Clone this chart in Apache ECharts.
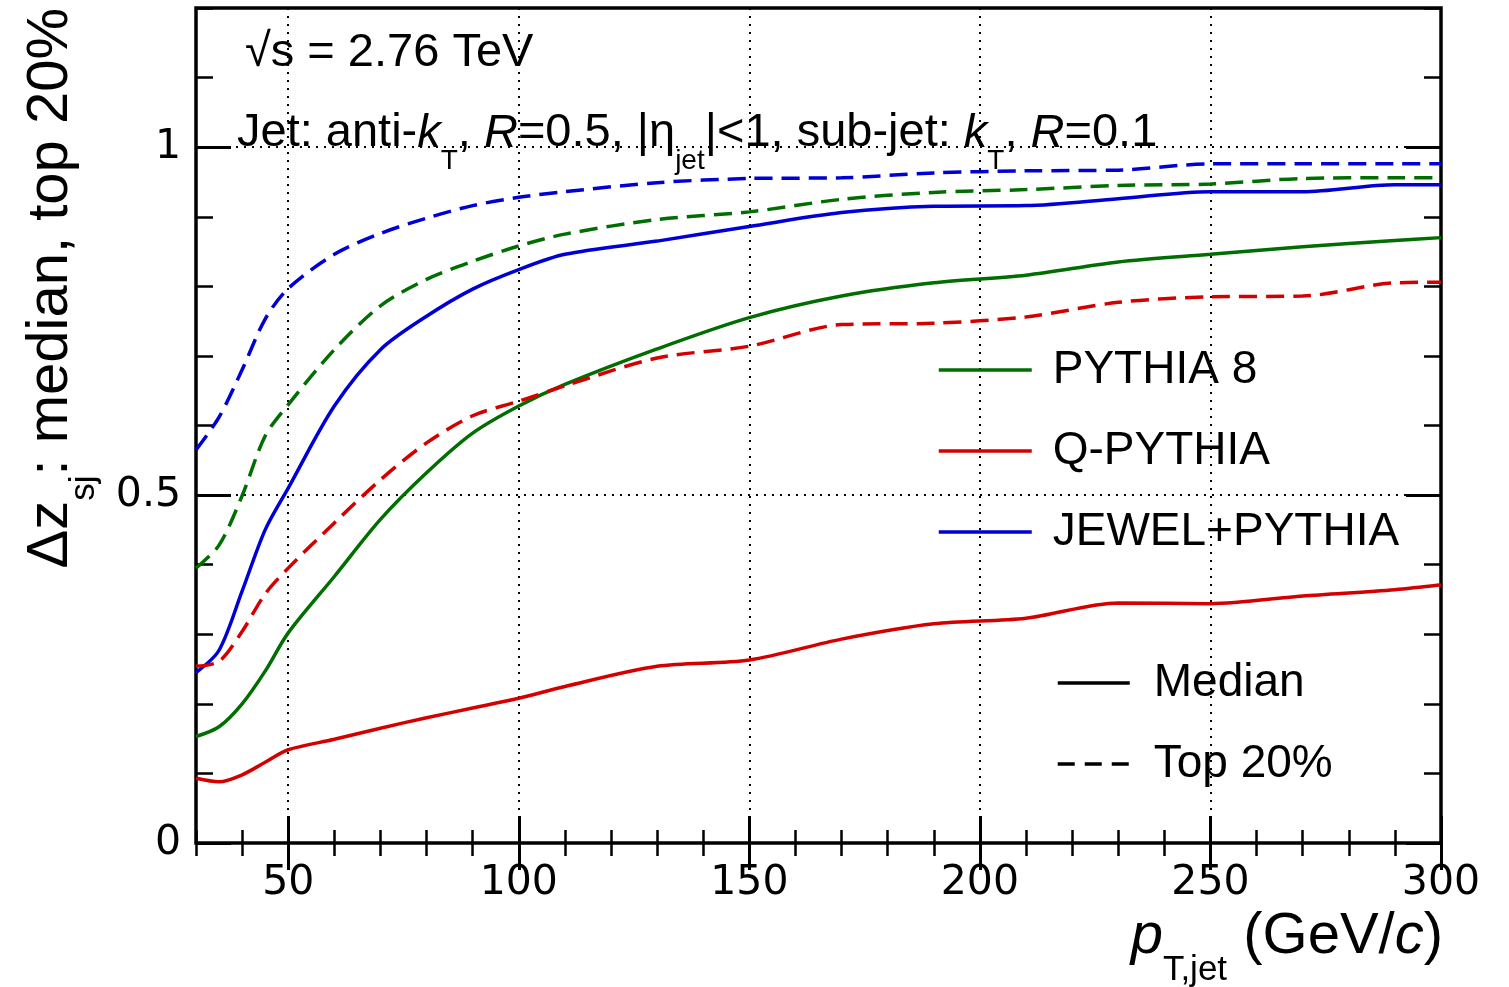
<!DOCTYPE html>
<html><head><meta charset="utf-8">
<script src="https://cdn.jsdelivr.net/npm/echarts@6/dist/echarts.min.js"></script>
<style>html,body{margin:0;padding:0;background:#fff}#c{width:1509px;height:987px}</style>
</head><body><div id="c"></div>
<script>
// pT,jet (GeV/c) sampling points
const ptBins = [30,35,40,45,50,60,70,80,90,100,110,130,150,170,190,210,230,250,270,290,300];
// Delta z_sj values
const pythiaMedian  = [0.153,0.167,0.200,0.247,0.302,0.383,0.465,0.532,0.589,0.628,0.659,0.710,0.755,0.786,0.805,0.816,0.835,0.846,0.857,0.866,0.870];
const pythiaTop     = [0.395,0.428,0.499,0.585,0.630,0.709,0.772,0.810,0.836,0.858,0.875,0.896,0.907,0.925,0.935,0.939,0.945,0.947,0.955,0.956,0.956];
const qpythiaMedian = [0.093,0.088,0.098,0.116,0.134,0.149,0.165,0.180,0.194,0.208,0.225,0.254,0.263,0.293,0.315,0.323,0.345,0.344,0.355,0.364,0.371];
const qpythiaTop    = [0.254,0.261,0.304,0.358,0.395,0.460,0.522,0.575,0.614,0.635,0.657,0.697,0.714,0.745,0.747,0.756,0.777,0.785,0.786,0.805,0.806];
const jewelMedian   = [0.245,0.277,0.362,0.450,0.510,0.628,0.709,0.757,0.796,0.824,0.846,0.865,0.886,0.906,0.915,0.916,0.926,0.936,0.936,0.946,0.946];
const jewelTop      = [0.565,0.612,0.680,0.753,0.797,0.846,0.876,0.898,0.916,0.928,0.936,0.949,0.955,0.956,0.963,0.966,0.967,0.976,0.976,0.976,0.976];

const modelNames = ['PYTHIA 8','Q-PYTHIA','JEWEL+PYTHIA'];
const styleNames = ['Median','Top 20%'];
const xMajorTicks = [50,100,150,200,250,300];
const xTickLabels = ['50','100','150','200','250','300'];
const yMajorTicks = [0,0.5,1];
const yTickLabels = ['0','0.5','1'];

const GREEN = '#006e00', RED = '#d40000', BLUE = '#0000d6';
const DASH = [18, 9];

function mk(name, vals, color, dashed) {
  return {
    type: 'line', name: name, xAxisIndex: 0, yAxisIndex: 0,
    data: ptBins.map((x, i) => [x, vals[i]]),
    symbol: 'none', smooth: 0.3,
    lineStyle: {color: color, width: 3.5, type: dashed ? DASH : 'solid'},
    itemStyle: {color: color}, z: 3
  };
}

const series = [
  mk(modelNames[0], pythiaMedian, GREEN, false),
  mk(modelNames[1], qpythiaMedian, RED, false),
  mk(modelNames[2], jewelMedian, BLUE, false),
  mk(modelNames[0], pythiaTop, GREEN, true),
  mk(modelNames[1], qpythiaTop, RED, true),
  mk(modelNames[2], jewelTop, BLUE, true),
  {type:'line', name: styleNames[0], data: [], symbol:'none', lineStyle:{color:'#000', width:3}, itemStyle:{color:'#000'}},
  {type:'line', name: styleNames[1], data: [], symbol:'none', lineStyle:{color:'#000', width:3, type:[17,10]}, itemStyle:{color:'#000'}}
];

function near(list, v, tol) { for (let i = 0; i < list.length; i++) if (Math.abs(list[i] - v) < tol) return i; return -1; }

const gridDot = {show: true, lineStyle: {color: '#000', width: 2, type: [2, 6]}};

function xAx(pos, major, withLabels) {
  const a = {
    type: 'value', position: pos, min: 30, max: 300,
    axisLine: {show: false},
    splitLine: {show: false},
    axisLabel: {show: false}
  };
  if (major) {
    a.axisTick = {inside: true, length: 27, customValues: xMajorTicks, lineStyle: {color: '#000', width: 3}};
    a.splitLine = pos === 'bottom' ? gridDot : {show: false};
  } else {
    a.interval = 10;
    a.axisTick = {inside: true, length: 13, lineStyle: {color: '#000', width: 2.5}};
  }
  if (withLabels) {
    a.axisLabel = {
      show: true, fontFamily: 'DejaVu Sans', fontSize: 41, color: '#000', margin: 20,
      formatter: v => { const i = near(xMajorTicks, v, 1e-6); return i >= 0 ? xTickLabels[i] : ''; }
    };
  }
  return a;
}
function yAx(pos, major, withLabels) {
  const a = {
    type: 'value', position: pos, min: 0, max: 1.2,
    axisLine: {show: false},
    splitLine: {show: false},
    axisLabel: {show: false}
  };
  if (major) {
    a.axisTick = {inside: true, length: 35, customValues: yMajorTicks, lineStyle: {color: '#000', width: 3}};
    a.splitLine = pos === 'left' ? gridDot : {show: false};
  } else {
    a.interval = 0.1;
    a.axisTick = {inside: true, length: 17, lineStyle: {color: '#000', width: 2.5}};
  }
  if (withLabels) {
    a.axisLabel = {
      show: true, fontFamily: 'DejaVu Sans', fontSize: 41, color: '#000', margin: 15,
      formatter: v => { const i = near(yMajorTicks, v, 1e-6); return i >= 0 ? yTickLabels[i] : ''; }
    };
  }
  return a;
}

const FONT = 'Liberation Sans';
function richSet(F) {
  const f = Math.round(F * 0.6), Ls = Math.round(F * 1.384);
  return {
    m: {fontSize: F, fontFamily: FONT, lineHeight: F, verticalAlign: 'top', fill: '#000'},
    i: {fontSize: F, fontFamily: FONT, fontStyle: 'italic', lineHeight: F, verticalAlign: 'top', fill: '#000'},
    s: {fontSize: f, fontFamily: FONT, lineHeight: Ls, verticalAlign: 'bottom', fill: '#000'}
  };
}

const legendText = {fontFamily: FONT, fontSize: 46, color: '#000', lineHeight: 50};
const option = {
  animation: false,
  backgroundColor: '#fff',
  grid: {left: 196, right: 68, top: 8, bottom: 144, show: true, borderColor: '#000', borderWidth: 3.5, backgroundColor: 'transparent'},
  xAxis: [xAx('bottom', false, true), xAx('bottom', true, false), xAx('top', false, false), xAx('top', true, false)],
  yAxis: [yAx('left', false, true), yAx('left', true, false), yAx('right', false, false), yAx('right', true, false)],
  legend: [
    {data: modelNames, orient: 'vertical', left: 937, top: 343, padding: 0, itemGap: 27,
     itemWidth: 93, itemHeight: 2, selectedMode: false, lineStyle: {width: 3.5},
     textStyle: Object.assign({padding: [4, 0, 0, 16]}, legendText)},
    {data: styleNames, orient: 'vertical', left: 1056, top: 656, padding: 0, itemGap: 27,
     itemWidth: 72, itemHeight: 2, selectedMode: false, lineStyle: {width: 3.5},
     textStyle: Object.assign({padding: [4, 0, 0, 19]}, legendText)}
  ],
  graphic: [
    {type: 'text', x: 245, y: 53, z: 10,
     style: {text: '√s = 2.76 TeV', fontSize: 47, fontFamily: FONT, fill: '#000', align: 'left', verticalAlign: 'middle'}},
    {type: 'text', x: 237, y: 110, z: 10,
     style: {text: '{m|Jet: anti-}{i|k}{s|T}{m|, }{i|R}{m|=0.5, |η}{s|jet}{m||<1, sub-jet: }{i|k}{s|T}{m|, }{i|R}{m|=0.1}',
             rich: richSet(47), align: 'left', verticalAlign: 'top'}},
    {type: 'text', x: 1443, y: 908, z: 10,
     style: {text: '{i|p}{s|T,jet}{m| (GeV/}{i|c}{m|)}', rich: richSet(58), align: 'right', verticalAlign: 'top'}},
    {type: 'text', x: 22, y: 8, rotation: Math.PI / 2, z: 10,
     style: {text: '{m|Δz}{s|sj}{m|: median, top 20%}', rich: richSet(58), align: 'right', verticalAlign: 'top'}}
  ],
  series: series
};

const chart = echarts.init(document.getElementById('c'));
chart.setOption(option);
</script>
</body></html>
